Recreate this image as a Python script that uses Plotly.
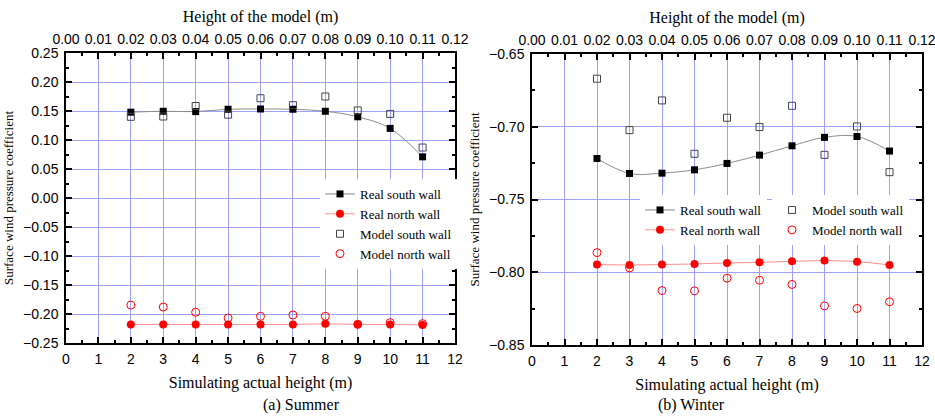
import plotly.graph_objects as go

heights = [2, 3, 4, 5, 6, 7, 8, 9, 10, 11]

summer_real_south = [0.148, 0.1495, 0.149, 0.153, 0.1535, 0.153, 0.1495, 0.140, 0.120, 0.071]
summer_real_north = [-0.218, -0.218, -0.218, -0.218, -0.218, -0.218, -0.217, -0.218, -0.218, -0.219]
summer_model_south = [0.140, 0.1405, 0.1586, 0.1437, 0.172, 0.160, 0.175, 0.151, 0.145, 0.087]
summer_model_north = [-0.1846, -0.188, -0.197, -0.207, -0.204, -0.2017, -0.204, -0.2177, -0.215, -0.2166]

winter_real_south = [-0.7218, -0.7321, -0.7319, -0.7296, -0.7252, -0.7195, -0.7131, -0.7073, -0.7067, -0.7167]
winter_real_north = [-0.7947, -0.795, -0.7947, -0.7943, -0.7936, -0.7932, -0.7925, -0.792, -0.7927, -0.795]
winter_model_south = [-0.667, -0.7023, -0.6819, -0.7186, -0.6938, -0.7002, -0.6856, -0.7193, -0.6998, -0.7312]
winter_model_north = [-0.7865, -0.797, -0.8126, -0.8128, -0.8041, -0.8055, -0.8084, -0.8231, -0.8249, -0.8203]

names = ["Real south wall", "Real north wall", "Model south wall", "Model north wall"]
captions = ["(a) Summer", "(b) Winter"]

SERIF = "Liberation Serif, Times New Roman, serif"
SANS = "Liberation Sans, Arial, sans-serif"
GRID = "rgb(160,160,255)"
RED = "#ff0000"

# the page body margin is removed (post_script below), so the figure fills the window
W, H, OFF = 935, 420, 0


def px(x):
    return (x - OFF) / W


def py(y):
    return 1 - (y - OFF) / H


fig = go.Figure()


def add_panel(xa, ya, xtop, rs, rn, ms, mn, leg_real, leg_model):
    fig.add_trace(go.Scatter(x=heights, y=rs, name=names[0], xaxis=xa, yaxis=ya,
                             mode="lines+markers", line=dict(color="#8c8c8c", width=1, shape="spline"),
                             marker=dict(symbol="square", size=7, color="black"), legend=leg_real))
    fig.add_trace(go.Scatter(x=heights, y=rn, name=names[1], xaxis=xa, yaxis=ya,
                             mode="lines+markers", line=dict(color="#ff8c8c", width=1, shape="spline"),
                             marker=dict(symbol="circle", size=8, color=RED), legend=leg_real))
    fig.add_trace(go.Scatter(x=heights, y=ms, name=names[2], xaxis=xa, yaxis=ya,
                             mode="markers",
                             marker=dict(symbol="square-open", size=7, color="#444444", line=dict(width=1)),
                             legend=leg_model))
    fig.add_trace(go.Scatter(x=heights, y=mn, name=names[3], xaxis=xa, yaxis=ya,
                             mode="markers",
                             marker=dict(symbol="circle-open", size=8, color=RED, line=dict(width=1)),
                             legend=leg_model))
    # empty helper trace so the top (model height) axis is drawn
    fig.add_trace(go.Scatter(x=[], y=[], xaxis=xtop, yaxis=ya, showlegend=False,
                             hoverinfo="skip", mode="markers"))


add_panel("x", "y", "x3", summer_real_south, summer_real_north, summer_model_south, summer_model_north,
          "legend", "legend")
add_panel("x2", "y2", "x4", winter_real_south, winter_real_north, winter_model_south, winter_model_north,
          "legend2", "legend3")

tickfont = dict(family=SANS, size=14, color="black")
titlefont = dict(family=SERIF, size=16, color="black")


def bottom_x(domain, anchor):
    return dict(domain=domain, anchor=anchor, range=[0, 12], dtick=1, tick0=0,
                showgrid=True, gridcolor=GRID, gridwidth=1, zeroline=False,
                showline=True, linecolor="black", linewidth=1.5, mirror=False,
                ticks="inside", ticklen=6, tickwidth=1.5, tickcolor="black",
                minor=dict(dtick=0.5, ticks="inside", ticklen=3, tickcolor="black", showgrid=False),
                tickfont=tickfont, ticklabelstandoff=2, ticklabeloverflow="allow", automargin=False,
                title=dict(text="Simulating actual height (m)", font=titlefont, standoff=11))


def top_x(overlay, anchor):
    return dict(overlaying=overlay, anchor=anchor, side="top", range=[0, 0.12], dtick=0.01, tick0=0,
                tickformat=".2f", showgrid=False, zeroline=False,
                showline=True, linecolor="black", linewidth=1.5,
                ticks="inside", ticklen=6, tickwidth=1.5, tickcolor="black",
                minor=dict(dtick=0.005, ticks="inside", ticklen=3, tickcolor="black", showgrid=False),
                tickfont=tickfont, ticklabelstandoff=2, ticklabeloverflow="allow", automargin=False,
                title=dict(text="Height of the model (m)", font=titlefont, standoff=4))


def left_y(domain, anchor, rng):
    return dict(domain=domain, anchor=anchor, range=rng, dtick=0.05, tick0=0, tickformat=".2f",
                showgrid=True, gridcolor=GRID, gridwidth=1, zeroline=False,
                showline=True, linecolor="black", linewidth=1.5, mirror="ticks",
                ticks="inside", ticklen=6, tickwidth=1.5, tickcolor="black",
                minor=dict(dtick=0.025, ticks="inside", ticklen=3, tickcolor="black", showgrid=False),
                tickfont=tickfont, ticklabelstandoff=3, automargin=False,
                title=dict(text="Surface wind pressure coefficient",
                           font=dict(family=SERIF, size=13, color="black"), standoff=6))


legend_common = dict(bgcolor="white", font=dict(family=SERIF, size=13, color="black"),
                     xanchor="left", yanchor="top", tracegroupgap=0, itemwidth=30)

fig.update_layout(
    width=W, height=H,
    margin=dict(l=0, r=0, t=0, b=0, pad=0, autoexpand=False),
    paper_bgcolor="white", plot_bgcolor="white",
    xaxis=bottom_x([px(66), px(455)], "y"),
    yaxis=left_y([py(343), py(53)], "x", [-0.25, 0.25]),
    xaxis3=top_x("x", "y"),
    xaxis2=bottom_x([px(532), px(922)], "y2"),
    yaxis2=left_y([py(345), py(54)], "x2", [-0.85, -0.65]),
    xaxis4=top_x("x2", "y2"),
    legend=dict(x=px(320), y=py(179), **legend_common),
    legend2=dict(x=px(640), y=py(195), **legend_common),
    legend3=dict(x=px(772), y=py(195), **legend_common),
    showlegend=True,
    annotations=[
        dict(text=captions[0], x=(px(66) + px(455)) / 2, y=py(405), xref="paper", yref="paper",
             yanchor="middle", showarrow=False, font=dict(family=SERIF, size=16, color="black")),
        dict(text=captions[1], x=(px(532) + px(922)) / 2, y=py(405), xref="paper", yref="paper",
             yanchor="middle", showarrow=False, font=dict(family=SERIF, size=16, color="black")),
    ],
)

fig.write_html("out.html", config={"displayModeBar": False},
               post_script="document.body.style.margin='0px';document.body.style.overflow='hidden';")
